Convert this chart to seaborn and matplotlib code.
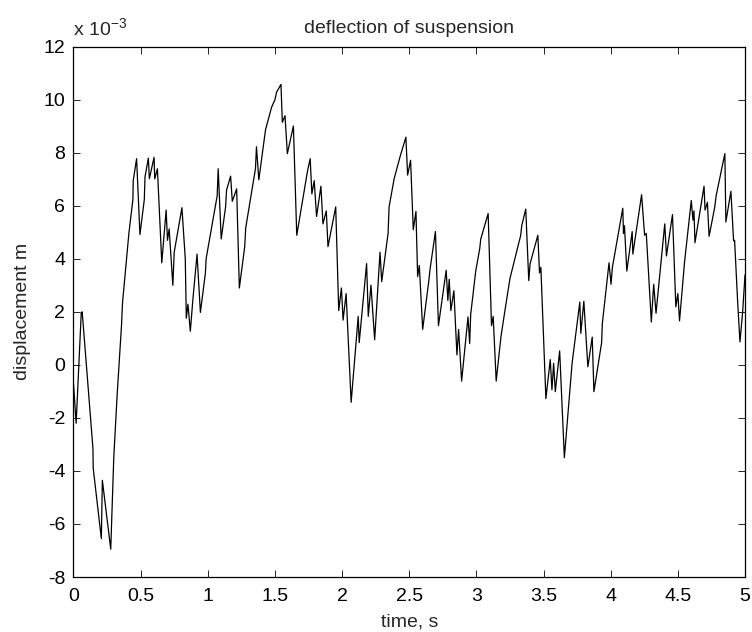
import numpy as np
import pandas as pd
import matplotlib
matplotlib.use('Agg')
import matplotlib.pyplot as plt
import seaborn as sns

# time (s) and deflection (x 1e-3 m)
time_s = [0.0, 0.02, 0.058, 0.065, 0.145, 0.147, 0.2075, 0.215, 0.2775, 0.30,
          0.325, 0.3575, 0.365, 0.4125, 0.4425, 0.445, 0.47, 0.495, 0.5275, 0.5325,
          0.5575, 0.565, 0.6, 0.605, 0.625, 0.6575, 0.69, 0.70, 0.7125, 0.74,
          0.75, 0.8075, 0.8325, 0.84, 0.8525, 0.87, 0.89, 0.92, 0.945, 0.9825,
          0.9875, 1.07, 1.0775, 1.10, 1.1325, 1.14, 1.17, 1.1825, 1.215, 1.235,
          1.275, 1.2825, 1.355, 1.3625, 1.38, 1.425, 1.43, 1.475, 1.5, 1.5125,
          1.545, 1.555, 1.575, 1.5925, 1.6375, 1.6625, 1.7425, 1.7625, 1.775, 1.7925,
          1.81, 1.8425, 1.8575, 1.8825, 1.895, 1.9525, 1.975, 1.995, 2.0075, 2.03,
          2.0675, 2.12, 2.1275, 2.1825, 2.195, 2.215, 2.2425, 2.2825, 2.295, 2.3425,
          2.35, 2.3875, 2.4325, 2.475, 2.488, 2.51, 2.53, 2.55, 2.5625, 2.575,
          2.6, 2.645, 2.655, 2.695, 2.7175, 2.775, 2.7875, 2.7975, 2.81, 2.8325,
          2.855, 2.8675, 2.89, 2.9375, 2.95, 2.9575, 2.995, 3.025, 3.0325, 3.0875,
          3.1125, 3.125, 3.1475, 3.1825, 3.2125, 3.25, 3.33, 3.3375, 3.3675, 3.39,
          3.4, 3.4575, 3.47, 3.48, 3.5175, 3.55, 3.5625, 3.575, 3.5875, 3.62,
          3.655, 3.7125, 3.77, 3.7775, 3.8, 3.83, 3.8625, 3.875, 3.9325, 3.9375,
          3.9875, 4.0025, 4.0125, 4.09, 4.095, 4.1025, 4.12, 4.16, 4.165, 4.23,
          4.2525, 4.265, 4.3025, 4.32, 4.3375, 4.4025, 4.415, 4.46, 4.485, 4.5,
          4.5125, 4.55, 4.6, 4.6125, 4.62, 4.6275, 4.695, 4.7025, 4.72, 4.7325,
          4.775, 4.785, 4.85, 4.8575, 4.895, 4.915, 4.9225, 4.945, 4.9625, 4.9825,
          5.0]
deflection = [-0.7, -2.2, 1.98, 2.0, -3.15, -3.9, -6.55, -4.35, -6.95, -3.5,
              -1.15, 1.48, 2.33, 4.96, 6.24, 6.95, 7.78, 4.92, 6.24, 7.09,
              7.8, 7.02, 7.83, 7.02, 7.4, 3.85, 5.84, 4.7, 5.13, 3.0,
              4.25, 5.93, 4.0, 1.76, 2.29, 1.27, 2.52, 4.18, 1.98, 3.47,
              4.0, 6.38, 7.4, 4.75, 5.96, 6.6, 7.12, 6.17, 6.64, 2.9,
              4.46, 5.17, 7.4, 8.23, 6.98, 8.66, 8.87, 9.72, 10.0, 10.29,
              10.58, 9.15, 9.4, 7.97, 9.01, 4.89, 7.31, 7.78, 6.45, 6.95,
              5.6, 6.74, 5.32, 5.81, 4.46, 5.96, 2.05, 2.9, 1.69, 2.69,
              -1.41, 1.83, 0.84, 3.82, 1.83, 3.01, 0.95, 4.25, 3.14, 4.96,
              5.96, 7.02, 7.87, 8.59, 7.16, 7.72, 5.1, 5.79, 3.33, 3.75,
              1.34, 3.14, 3.61, 5.03, 1.48, 3.57, 2.43, 3.23, 2.05, 2.8,
              0.38, 1.34, -0.61, 1.81, 0.81, 1.9, 3.54, 4.39, 4.75, 5.71,
              1.48, 1.83, -0.61, 1.05, 2.05, 3.26, 4.89, 5.25, 5.88, 3.18,
              3.82, 4.89, 3.47, 3.68, -1.27, 0.2, -0.94, 0.06, -1.01, 0.53,
              -3.5, 0.06, 2.37, 1.19, 2.4, -0.07, 1.05, -1.01, 0.84, 1.55,
              3.85, 3.04, 3.68, 5.91, 4.96, 5.25, 3.54, 5.03, 4.18, 6.42,
              4.89, 4.96, 1.62, 3.04, 1.95, 5.32, 4.11, 5.67, 2.19, 2.69,
              1.66, 3.89, 6.2, 5.46, 5.81, 4.61, 6.74, 5.84, 6.13, 4.85,
              5.96, 6.38, 7.97, 5.39, 6.55, 4.68, 4.7, 2.4, 0.87, 2.0,
              3.4]

x_ticks = [0, 0.5, 1, 1.5, 2, 2.5, 3, 3.5, 4, 4.5, 5]
x_tick_labels = ['0', '0.5', '1', '1.5', '2', '2.5', '3', '3.5', '4', '4.5', '5']
y_ticks = [-8, -6, -4, -2, 0, 2, 4, 6, 8, 10, 12]

df = pd.DataFrame({'time': time_s, 'defl': deflection})

sns.set_style('ticks')
plt.rcParams['font.family'] = ['Liberation Sans', 'DejaVu Sans']
plt.rcParams['axes.unicode_minus'] = False
fs = 14

fig = plt.figure(figsize=(7.52, 6.32), dpi=100)
ax = fig.add_axes([0.0977, 0.087, 0.893, 0.839])

sns.lineplot(data=df, x='time', y='defl', ax=ax, color='black', linewidth=0.9,
             sort=False, estimator=None)

ax.set_xlim(0, 5)
ax.set_ylim(-8, 12)
ax.set_xticks(x_ticks)
ax.set_xticklabels(x_tick_labels)
ax.set_yticks(y_ticks)
ax.tick_params(direction='in', length=5, width=0.6, top=True, right=True,
               labelsize=fs, color='black', labelcolor='black')
ax.tick_params(axis='x', pad=8)
ax.tick_params(axis='y', pad=6)
for s in ax.spines.values():
    s.set_linewidth(0.9)
    s.set_color('black')

ax.set_title('deflection of suspension', fontsize=fs, pad=10)
ax.set_xlabel('time, s', fontsize=fs, labelpad=6)
ax.set_ylabel('displacement m', fontsize=fs, labelpad=9)
ax.text(0.0, 1.012, r'x 10$^{\mathregular{-3}}$', transform=ax.transAxes,
        fontsize=fs, ha='left', va='bottom')

fig.savefig('out.png', dpi=100, facecolor='white')
